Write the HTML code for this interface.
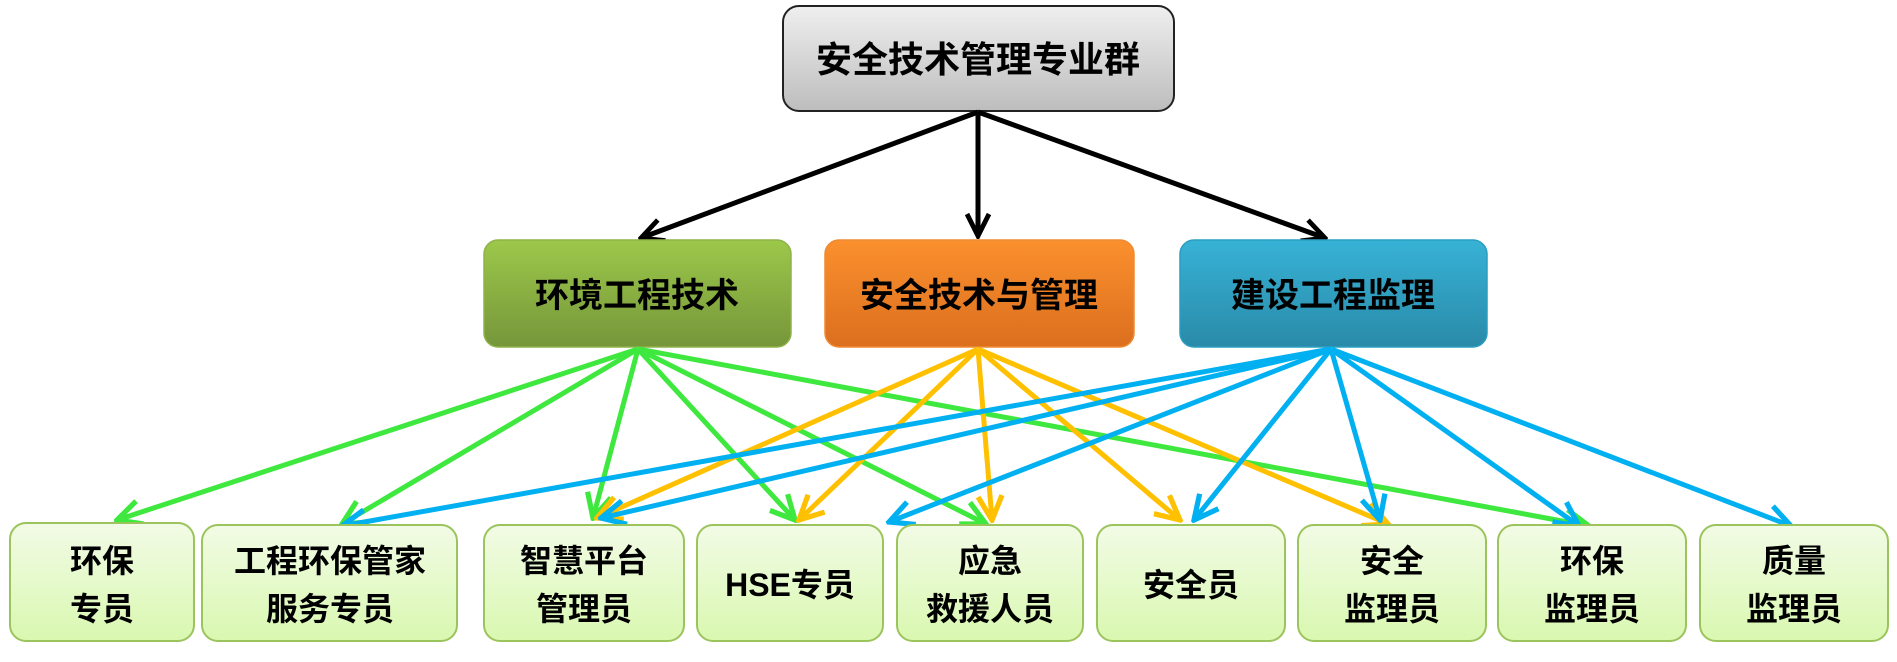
<!DOCTYPE html>
<html><head><meta charset="utf-8"><style>
html,body{margin:0;padding:0;background:#fff;}
svg{display:block;}
text{font-family:"Liberation Sans","Noto Sans CJK SC",sans-serif;font-weight:bold;fill:#000;}
</style></head><body>
<svg width="1897" height="662" viewBox="0 0 1897 662" xmlns="http://www.w3.org/2000/svg">
<defs>
<linearGradient id="gTop" x1="0" y1="0" x2="0" y2="1"><stop offset="0" stop-color="#efefef"/><stop offset="1" stop-color="#bdbdbd"/></linearGradient>
<linearGradient id="gG" x1="0" y1="0" x2="0" y2="1"><stop offset="0" stop-color="#9cc84a"/><stop offset="1" stop-color="#76963a"/></linearGradient>
<linearGradient id="gO" x1="0" y1="0" x2="0" y2="1"><stop offset="0" stop-color="#fb902e"/><stop offset="1" stop-color="#db6f1e"/></linearGradient>
<linearGradient id="gB" x1="0" y1="0" x2="0" y2="1"><stop offset="0" stop-color="#37b2d6"/><stop offset="1" stop-color="#2a8aa8"/></linearGradient>
<linearGradient id="gL" x1="0" y1="0" x2="0" y2="1"><stop offset="0" stop-color="#f2fbe6"/><stop offset="1" stop-color="#d9f8b0"/></linearGradient>
<marker id="mk" viewBox="0 0 20 20" refX="18" refY="10" markerWidth="5.5" markerHeight="5.5" orient="auto" markerUnits="strokeWidth"><polyline points="2,2 18,10 2,18" fill="none" stroke="#000" stroke-width="3.5"/></marker>
<marker id="mg" viewBox="0 0 20 20" refX="18" refY="10" markerWidth="6" markerHeight="6" orient="auto" markerUnits="strokeWidth"><polyline points="2,2 18,10 2,18" fill="none" stroke="#3ee83e" stroke-width="3.5"/></marker>
<marker id="mo" viewBox="0 0 20 20" refX="18" refY="10" markerWidth="6" markerHeight="6" orient="auto" markerUnits="strokeWidth"><polyline points="2,2 18,10 2,18" fill="none" stroke="#ffc000" stroke-width="3.5"/></marker>
<marker id="mb" viewBox="0 0 20 20" refX="18" refY="10" markerWidth="6" markerHeight="6" orient="auto" markerUnits="strokeWidth"><polyline points="2,2 18,10 2,18" fill="none" stroke="#00b0f0" stroke-width="3.5"/></marker>
</defs>

<rect x="783" y="6" width="391" height="105" rx="16" fill="url(#gTop)" stroke="#222" stroke-width="2"/>
<text x="978" y="72" font-size="36" text-anchor="middle">安全技术管理专业群</text>

<g stroke="#000" stroke-width="5" fill="none" marker-end="url(#mk)">
<line x1="978" y1="112" x2="641" y2="238"/>
<line x1="978" y1="112" x2="978" y2="236"/>
<line x1="978" y1="112" x2="1325" y2="238"/>
</g>

<rect x="484" y="240" width="307" height="107" rx="14" fill="url(#gG)" stroke="#8fb24a" stroke-width="1.5"/>
<text x="637" y="307" font-size="34" text-anchor="middle">环境工程技术</text>
<rect x="825" y="240" width="309" height="107" rx="14" fill="url(#gO)" stroke="#f08a30" stroke-width="1.5"/>
<text x="979" y="307" font-size="34" text-anchor="middle">安全技术与管理</text>
<rect x="1180" y="240" width="307" height="107" rx="14" fill="url(#gB)" stroke="#2a9ec0" stroke-width="1.5"/>
<text x="1333" y="307" font-size="34" text-anchor="middle">建设工程监理</text>

<g stroke="#3ee83e" stroke-width="5" fill="none" marker-end="url(#mg)">
<line x1="638" y1="349" x2="117" y2="520"/>
<line x1="638" y1="349" x2="342" y2="524"/>
<line x1="638" y1="349" x2="593" y2="518"/>
<line x1="638" y1="349" x2="795" y2="520"/>
<line x1="638" y1="349" x2="986" y2="524"/>
<line x1="638" y1="349" x2="1589" y2="526"/>
</g>
<g stroke="#ffc000" stroke-width="5" fill="none" marker-end="url(#mo)">
<line x1="978" y1="349" x2="597" y2="518"/>
<line x1="978" y1="349" x2="799" y2="520"/>
<line x1="978" y1="349" x2="992" y2="520"/>
<line x1="978" y1="349" x2="1180" y2="520"/>
<line x1="978" y1="349" x2="1388" y2="524"/>
</g>
<g stroke="#00b0f0" stroke-width="5" fill="none" marker-end="url(#mb)">
<line x1="1331" y1="349" x2="342" y2="526"/>
<line x1="1331" y1="349" x2="601" y2="518"/>
<line x1="1331" y1="349" x2="889" y2="522"/>
<line x1="1331" y1="349" x2="1194" y2="520"/>
<line x1="1331" y1="349" x2="1380" y2="520"/>
<line x1="1331" y1="349" x2="1579" y2="526"/>
<line x1="1331" y1="349" x2="1791" y2="526"/>
</g>

<g fill="url(#gL)" stroke="#9cc45c" stroke-width="2">
<rect x="10" y="523" width="184" height="118" rx="16"/>
<rect x="202" y="525" width="255" height="116" rx="16"/>
<rect x="484" y="525" width="200" height="116" rx="16"/>
<rect x="697" y="525" width="186" height="116" rx="16"/>
<rect x="897" y="525" width="186" height="116" rx="16"/>
<rect x="1097" y="525" width="188" height="116" rx="16"/>
<rect x="1298" y="525" width="188" height="116" rx="16"/>
<rect x="1498" y="525" width="188" height="116" rx="16"/>
<rect x="1700" y="525" width="188" height="116" rx="16"/>
</g>
<g font-size="32" text-anchor="middle">
<text x="102" y="572">环保</text><text x="102" y="620">专员</text>
<text x="330" y="572">工程环保管家</text><text x="330" y="620">服务专员</text>
<text x="584" y="572">智慧平台</text><text x="584" y="620">管理员</text>
<text x="790" y="596">HSE专员</text>
<text x="990" y="572">应急</text><text x="990" y="620">救援人员</text>
<text x="1191" y="596">安全员</text>
<text x="1392" y="572">安全</text><text x="1392" y="620">监理员</text>
<text x="1592" y="572">环保</text><text x="1592" y="620">监理员</text>
<text x="1794" y="572">质量</text><text x="1794" y="620">监理员</text>
</g>
</svg>
</body></html>
